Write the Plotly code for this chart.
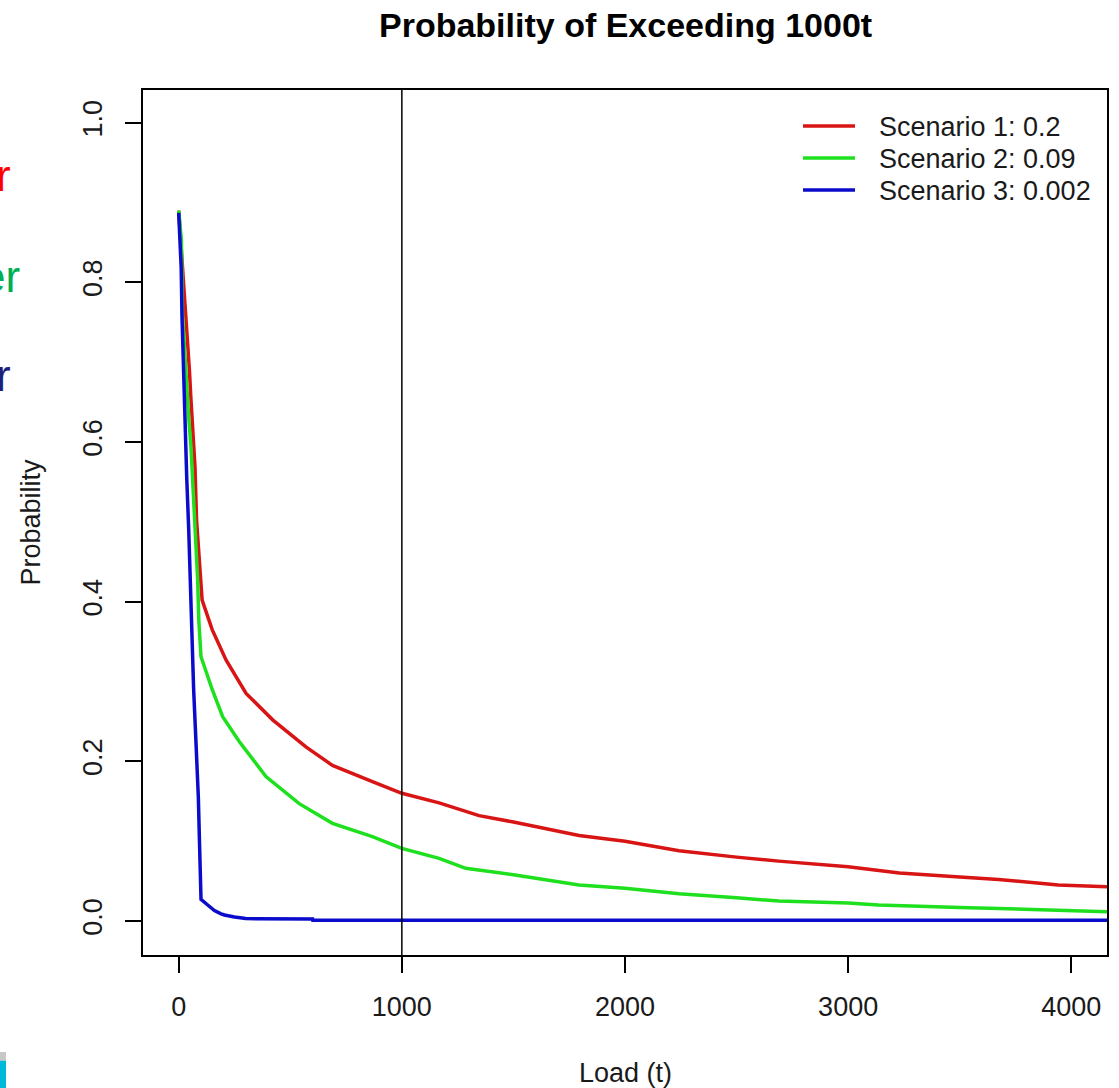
import plotly.graph_objects as go

# ---- data ----
series_names = ["Scenario 1: 0.2", "Scenario 2: 0.09", "Scenario 3: 0.002"]
series_colors = ["#D81414", "#1EE01E", "#0B0BCB"]

s1_load = [0, 10, 20, 30, 40, 48, 55, 63, 73, 80, 90, 100, 105, 150, 212, 302, 421, 570, 689, 868,
           1000, 1167, 1346, 1500, 1794, 2000, 2242, 2500, 2689, 3000, 3230, 3500, 3674, 3942, 4160]
s1_prob = [0.89, 0.85, 0.81, 0.772, 0.730, 0.690, 0.653, 0.611, 0.569, 0.502, 0.465, 0.43, 0.402, 0.365,
           0.327, 0.285, 0.252, 0.218, 0.195, 0.1745, 0.160, 0.148, 0.132, 0.124, 0.107, 0.100, 0.088,
           0.080, 0.075, 0.068, 0.060, 0.055, 0.052, 0.045, 0.043]

s2_load = [0, 5, 12, 17, 25, 33, 45, 55, 70, 85, 90, 95, 100, 150, 197, 272, 391, 540, 689, 868,
           1000, 1167, 1286, 1500, 1794, 2000, 2242, 2500, 2689, 3000, 3136, 3500, 3822, 4160]
s2_prob = [0.89, 0.87, 0.853, 0.76, 0.72, 0.678, 0.63, 0.594, 0.511, 0.427, 0.377, 0.36, 0.331, 0.29,
           0.256, 0.2246, 0.181, 0.147, 0.1224, 0.1056, 0.091, 0.0785, 0.066, 0.058, 0.045, 0.041,
           0.034, 0.029, 0.025, 0.0225, 0.020, 0.017, 0.014, 0.0117]

s3_load = [0, 11, 15, 21, 29, 36, 45, 52, 60, 67, 78, 88, 94, 100, 130, 160, 190, 205, 250, 300,
           600, 601, 4160]
s3_prob = [0.887, 0.819, 0.755, 0.688, 0.621, 0.555, 0.489, 0.423, 0.357, 0.29, 0.22, 0.155, 0.09,
           0.027, 0.02, 0.013, 0.009, 0.0075, 0.005, 0.003, 0.0025, 0.001, 0.001]

threshold = 1000
x_ticks = [0, 1000, 2000, 3000, 4000]
y_ticks = [0.0, 0.2, 0.4, 0.6, 0.8, 1.0]
title_text = "Probability of Exceeding 1000t"
x_title = "Load (t)"
y_title = "Probability"
side_texts = ["r", "er", "r"]
side_colors = ["#FF0000", "#00B050", "#1F1F7A"]

FONT = "Liberation Sans, Arial, sans-serif"

W, H = 1119, 1088
L, R, T, B = 143, 1107, 90, 955


def px(xp):
    return (xp - L) / (R - L)


def py(yp):
    return (B - yp) / (B - T)


fig = go.Figure()
for xs, ys, name, col in zip([s1_load, s2_load, s3_load], [s1_prob, s2_prob, s3_prob],
                             series_names, series_colors):
    fig.add_trace(go.Scatter(x=xs, y=ys, mode="lines", name=name,
                             line=dict(color=col, width=3.5), showlegend=False))

# vertical reference line
fig.add_shape(type="line", xref="x", yref="paper", x0=threshold, x1=threshold, y0=0, y1=1,
              line=dict(color="black", width=1.5))

# manual legend (no box)
row_y = [126, 158, 190]
for name, col, yy in zip(series_names, series_colors, row_y):
    fig.add_shape(type="line", xref="paper", yref="paper", x0=px(803), x1=px(855),
                  y0=py(yy), y1=py(yy), line=dict(color=col, width=3.5))
    fig.add_annotation(xref="paper", yref="paper", x=px(877), y=py(yy + 1), text=name,
                       showarrow=False, xanchor="left", yanchor="middle",
                       font=dict(family=FONT, size=27, color="#1a1a1a"))

# titles
fig.add_annotation(xref="paper", yref="paper", x=0.5, y=py(25), text="<b>" + title_text + "</b>",
                   showarrow=False, xanchor="center", yanchor="middle",
                   font=dict(family=FONT, size=34, color="black"))
fig.add_annotation(xref="paper", yref="paper", x=0.5, y=py(1073), text=x_title,
                   showarrow=False, xanchor="center", yanchor="middle",
                   font=dict(family=FONT, size=27, color="#1a1a1a"))
fig.add_annotation(xref="paper", yref="paper", x=px(30), y=0.5, text=y_title, textangle=-90,
                   showarrow=False, xanchor="center", yanchor="middle",
                   font=dict(family=FONT, size=27, color="#1a1a1a"))

# cropped text fragments at the left edge (cut off by the image edge, as in the reference)
for t, c, yy, xr in zip(side_texts, side_colors, [175, 277, 376], [13, 22, 13]):
    fig.add_annotation(xref="paper", yref="paper", x=px(xr), y=py(yy), text=t,
                       showarrow=False, xanchor="right", yanchor="middle",
                       font=dict(family=FONT, size=44, color=c))

# cyan strip at bottom-left
fig.add_shape(type="rect", xref="paper", yref="paper", x0=px(0), x1=px(6), y0=py(1060.7), y1=py(1052),
              line=dict(width=0), fillcolor="#C8C8C8")
fig.add_shape(type="rect", xref="paper", yref="paper", x0=px(0), x1=px(6), y0=py(1088), y1=py(1060.7),
              line=dict(width=0), fillcolor="#00B8D8")

axis_common = dict(showline=True, mirror=True, linecolor="black", linewidth=1.5,
                   ticks="outside", ticklen=16, tickwidth=1.5, tickcolor="black",
                   showgrid=False, zeroline=False,
                   tickfont=dict(family=FONT, size=27, color="#1a1a1a"))

fig.update_layout(
    width=W, height=H,
    margin=dict(l=L, r=W - R, t=T, b=H - B, autoexpand=False),
    paper_bgcolor="white", plot_bgcolor="white",
    xaxis=dict(range=[-160, 4160], tickvals=x_ticks, ticklabelstandoff=11, **axis_common),
    yaxis=dict(range=[-0.0426, 1.041], tickvals=y_ticks, tickformat=".1f", tickangle=-90,
               ticklabelstandoff=12, **axis_common),
)

fig.write_html("out.html")
